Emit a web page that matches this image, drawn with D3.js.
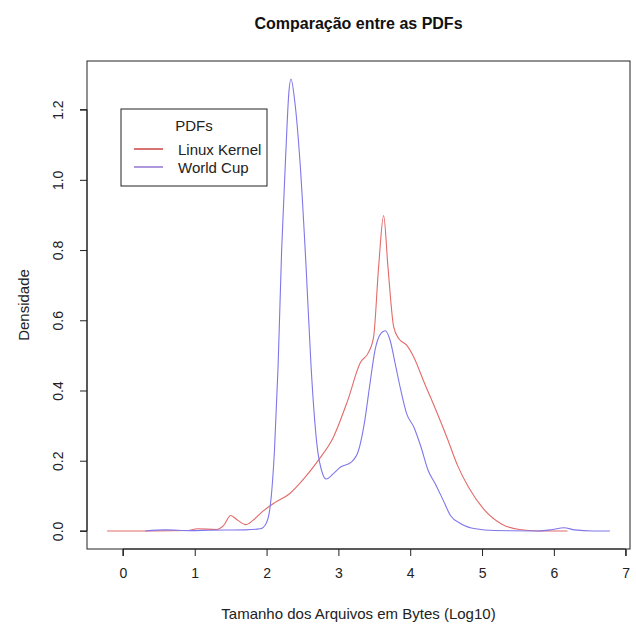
<!DOCTYPE html>
<html>
<head>
<meta charset="utf-8">
<script src="https://cdn.jsdelivr.net/npm/d3@7"></script>
<style>
  body { margin: 0; background: #fff; }
  svg { font-family: "Liberation Sans", Arial, sans-serif; }
</style>
</head>
<body>
<svg></svg>
<script>
const [svgWidth, svgHeight] = [636, 630];

// density estimates: [x, density]
const linuxX = [-0.22, 0.43, 0.89, 1.04, 1.30, 1.40, 1.50, 1.60, 1.71, 1.81, 1.93, 2.11, 2.32, 2.52, 2.72, 2.93, 3.13, 3.31, 3.41, 3.49, 3.56, 3.63, 3.69, 3.77, 3.84, 3.95, 4.05, 4.20, 4.35, 4.51, 4.66, 4.81, 5.02, 5.27, 5.52, 5.78, 6.19];
const linuxY = [0.000, 0.000, 0.001, 0.006, 0.004, 0.015, 0.044, 0.030, 0.018, 0.030, 0.053, 0.080, 0.106, 0.149, 0.201, 0.267, 0.372, 0.481, 0.505, 0.552, 0.752, 0.898, 0.752, 0.581, 0.548, 0.529, 0.495, 0.420, 0.348, 0.267, 0.186, 0.125, 0.063, 0.020, 0.004, 0.000, 0.000];

const worldX = [0.31, 0.59, 0.94, 1.20, 1.71, 1.91, 1.99, 2.04, 2.06, 2.11, 2.16, 2.21, 2.27, 2.31, 2.34, 2.39, 2.47, 2.55, 2.62, 2.70, 2.78, 2.83, 2.93, 3.03, 3.18, 3.28, 3.36, 3.44, 3.51, 3.59, 3.65, 3.72, 3.79, 3.87, 3.95, 4.05, 4.15, 4.25, 4.35, 4.46, 4.56, 4.71, 4.91, 5.17, 5.78, 5.98, 6.14, 6.29, 6.54, 6.78];
const worldY = [0.000, 0.003, 0.001, 0.002, 0.003, 0.006, 0.020, 0.055, 0.087, 0.229, 0.467, 0.800, 1.086, 1.247, 1.287, 1.228, 1.038, 0.753, 0.467, 0.248, 0.163, 0.148, 0.163, 0.182, 0.196, 0.229, 0.305, 0.420, 0.515, 0.562, 0.570, 0.543, 0.477, 0.400, 0.334, 0.296, 0.239, 0.172, 0.134, 0.087, 0.044, 0.020, 0.006, 0.001, 0.000, 0.004, 0.009, 0.003, 0.000, 0.000];

const xTicks = [0, 1, 2, 3, 4, 5, 6, 7];
const yTicks = [0.0, 0.2, 0.4, 0.6, 0.8, 1.0, 1.2];
const seriesNames = ['Linux Kernel', 'World Cup'];
const lineColors = ['#e46a6a', '#7f76ea'];
const legendColors = ['#c83434', '#8a6cd0'];

const box = { left: 87, right: 630, top: 61, bottom: 549 };

const svg = d3.select('svg')
  .attr('width', svgWidth)
  .attr('height', svgHeight);

// R style: data range padded by 4% on each side
const xMin = d3.min([...linuxX, ...worldX]);
const xMax = d3.max([...linuxX, ...worldX]);
const yMax = d3.max([...linuxY, ...worldY]);
const xPad = (xMax - xMin) * 0.04;
const yPad = yMax * 0.04;

const x = d3.scaleLinear()
  .domain([xMin - xPad, xMax + xPad])
  .range([box.left, box.right]);
const y = d3.scaleLinear()
  .domain([-yPad, yMax + yPad])
  .range([box.bottom, box.top]);

const line = d3.line()
  .x(d => x(d[0]))
  .y(d => y(d[1]))
  .curve(d3.curveMonotoneX);

const series = [
  d3.zip(linuxX, linuxY),
  d3.zip(worldX, worldY)
];

svg.selectAll('path.curve')
  .data(series)
  .enter()
  .append('path')
  .attr('class', 'curve')
  .attr('d', line)
  .attr('fill', 'none')
  .attr('stroke', (d, i) => lineColors[i])
  .attr('stroke-width', 1.1);

// plot frame
svg.append('rect')
  .attr('x', box.left)
  .attr('y', box.top)
  .attr('width', box.right - box.left)
  .attr('height', box.bottom - box.top)
  .attr('fill', 'none')
  .attr('stroke', '#222')
  .attr('stroke-width', 1);

// x axis
const xAxis = d3.axisBottom(x)
  .tickValues(xTicks)
  .tickSize(7)
  .tickPadding(12)
  .tickFormat(d3.format('d'));
const gx = svg.append('g')
  .attr('transform', `translate(0, ${box.bottom})`)
  .call(xAxis);
gx.select('.domain')
  .attr('d', `M${x(0)},7V0H${x(7)}V7`)
  .attr('stroke', '#222');

// y axis, labels turned like R's default las = 0
const yAxis = d3.axisLeft(y)
  .tickValues(yTicks)
  .tickSize(7)
  .tickFormat(d3.format('.1f'));
const gy = svg.append('g')
  .attr('transform', `translate(${box.left}, 0)`)
  .call(yAxis);
gy.select('.domain')
  .attr('d', `M-7,${y(0)}H0V${y(1.2)}H-7`)
  .attr('stroke', '#222');
gy.selectAll('.tick text')
  .attr('x', null)
  .attr('dy', null)
  .attr('text-anchor', 'middle')
  .attr('transform', 'translate(-29, 0) rotate(-90)')
  .attr('dominant-baseline', 'central');

svg.selectAll('.tick line').attr('stroke', '#222');
svg.selectAll('.tick text')
  .attr('font-size', 14)
  .attr('font-family', '"Liberation Sans", Arial, sans-serif')
  .attr('fill', '#222');

// titles
const midX = (box.left + box.right) / 2;
svg.append('text')
  .attr('x', midX)
  .attr('y', 23)
  .attr('text-anchor', 'middle')
  .attr('dominant-baseline', 'central')
  .attr('font-weight', 'bold')
  .attr('font-size', 16)
  .attr('fill', '#111')
  .text('Comparação entre as PDFs');

svg.append('text')
  .attr('x', midX)
  .attr('y', 613)
  .attr('text-anchor', 'middle')
  .attr('dominant-baseline', 'central')
  .attr('font-size', 15)
  .attr('fill', '#222')
  .text('Tamanho dos Arquivos em Bytes (Log10)');

svg.append('text')
  .attr('transform', `translate(23, ${(box.top + box.bottom) / 2}) rotate(-90)`)
  .attr('text-anchor', 'middle')
  .attr('dominant-baseline', 'central')
  .attr('font-size', 15)
  .attr('fill', '#222')
  .text('Densidade');

// legend
const legend = svg.append('g')
  .attr('transform', 'translate(121, 109)');
legend.append('rect')
  .attr('width', 146)
  .attr('height', 77)
  .attr('fill', '#fff')
  .attr('stroke', '#222');
legend.append('text')
  .attr('x', 73)
  .attr('y', 16)
  .attr('text-anchor', 'middle')
  .attr('dominant-baseline', 'central')
  .attr('font-size', 15)
  .attr('fill', '#222')
  .text('PDFs');
const item = legend.selectAll('g.item')
  .data(seriesNames)
  .enter()
  .append('g')
  .attr('class', 'item')
  .attr('transform', (d, i) => `translate(0, ${40 + i * 18})`);
item.append('line')
  .attr('x1', 13)
  .attr('x2', 42)
  .attr('stroke', (d, i) => legendColors[i])
  .attr('stroke-width', 1.4);
item.append('text')
  .attr('x', 57)
  .attr('dominant-baseline', 'central')
  .attr('font-size', 15)
  .attr('fill', '#222')
  .text(d => d);
</script>
</body>
</html>
